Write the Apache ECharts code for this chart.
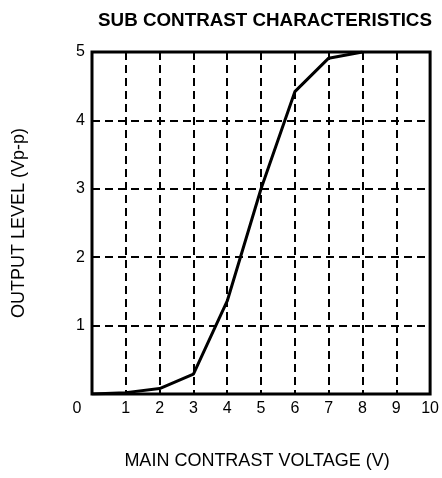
<!DOCTYPE html>
<html>
<head>
<meta charset="utf-8">
<script src="https://cdn.jsdelivr.net/npm/echarts@6/dist/echarts.min.js"></script>
<style>html,body{margin:0;padding:0;background:#fff;}#c{width:442px;height:478px;}</style>
</head>
<body>
<div id="c"></div>
<script>
var titleText = 'SUB CONTRAST CHARACTERISTICS';
var xName = 'MAIN CONTRAST VOLTAGE (V)';
var yName = 'OUTPUT LEVEL (Vp-p)';
var voltage = [0, 1, 2, 3, 4, 5, 6, 7, 8];
var outputLevel = [0, 0.02, 0.08, 0.29, 1.36, 3.0, 4.42, 4.91, 5.0];
var xMin = 0, xMax = 10, xStep = 1;
var yMin = 0, yMax = 5, yStep = 1;

var pts = voltage.map(function (v, i) { return [v, outputLevel[i]]; });
var font = '"Liberation Sans", Arial, sans-serif';
var chart = echarts.init(document.getElementById('c'), null, {renderer: 'canvas'});
chart.setOption({
  animation: false,
  backgroundColor: '#fff',
  title: {
    text: titleText, left: 260, top: 6, textAlign: 'center',
    textStyle: {fontFamily: font, fontWeight: 'bold', fontSize: 18.8, color: '#000'}
  },
  grid: {left: 92, right: 11, top: 52, bottom: 84, show: true, borderColor: '#000', borderWidth: 3, backgroundColor: 'transparent'},
  xAxis: {
    type: 'value', min: xMin, max: xMax, interval: xStep,
    name: xName, nameLocation: 'middle', nameGap: 58,
    nameTextStyle: {fontFamily: font, fontSize: 18, color: '#000', padding: [0, 8, 0, 0]},
    axisLine: {show: false}, axisTick: {show: false},
    axisLabel: {
      margin: 7, fontFamily: font, fontSize: 16, color: '#000',
      formatter: function (v) { return v === 0 ? '{z|0}' : String(v); },
      rich: {z: {fontFamily: font, fontSize: 16, color: '#000', padding: [0, 30, 0, 0]}}
    },
    splitLine: {show: true, lineStyle: {color: '#000', width: 2, type: [8, 5]}}
  },
  yAxis: {
    type: 'value', min: yMin, max: yMax, interval: yStep,
    name: yName, nameLocation: 'middle', nameGap: 64, nameRotate: 90,
    nameTextStyle: {fontFamily: font, fontSize: 18, color: '#000'},
    axisLine: {show: false}, axisTick: {show: false},
    axisLabel: {margin: 7, fontFamily: font, fontSize: 16, color: '#000', showMinLabel: false},
    splitLine: {show: true, lineStyle: {color: '#000', width: 2, type: [8, 5]}}
  },
  series: [{
    type: 'line', data: pts, showSymbol: false, symbol: 'none', smooth: false,
    lineStyle: {color: '#000', width: 3}, z: 5
  }]
});
</script>
</body>
</html>
